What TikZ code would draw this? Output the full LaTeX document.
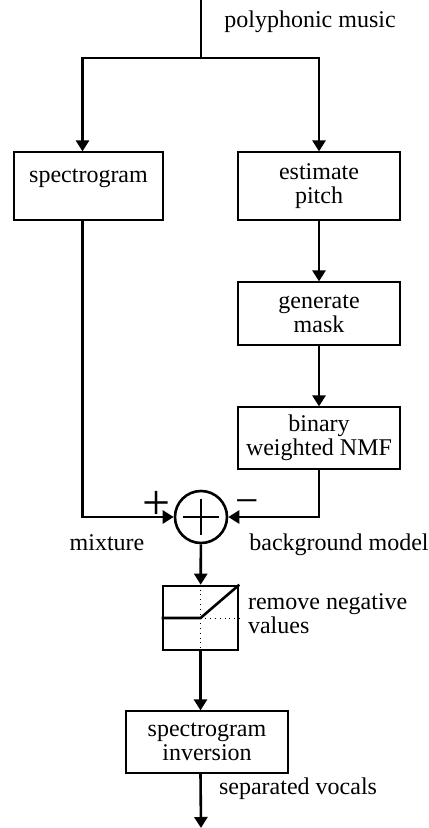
\documentclass[tikz,border=0pt]{standalone}
\usepackage{fontspec}
\setmainfont{Liberation Serif}
\usetikzlibrary{arrows.meta}

\begin{document}
\begin{tikzpicture}[x=0.5pt,y=-0.5pt,
    font=\fontsize{12pt}{12pt}\selectfont,
    sig/.style={line width=1.3pt},
    arr/.style={sig,-{Triangle[width=6.5pt,length=5.5pt]}},
    blk/.style={draw,line width=0.6pt,minimum width=81pt,align=center,inner sep=0pt}]
        \useasboundingbox (0,0) rectangle (428,828);                             %
        \coordinate (in)    at (201,0);                                          %
        \coordinate (split) at (201,58);                                         %
        \coordinate (out)   at (201,828);                                        %

        \node[blk, minimum width=74.5pt, minimum height=34pt,
              text height=8pt, text depth=11pt] (spec) at (88.5,186) {spectrogram};
        \node[blk, minimum height=34pt]   (pitch) at (319,186)   {estimate\\pitch};
        \node[blk, minimum height=31.5pt] (mask)  at (319,313.5) {generate\\mask};
        \node[blk, minimum height=31pt]   (nmf)   at (319,438)   {binary\\weighted NMF};
        \node[circle, draw, sig, minimum size=26pt, inner sep=0pt] (sum) at (201,517) {};
        \node[draw, sig, minimum width=37.5pt, minimum height=32pt, inner sep=0pt] (lim) at (200.5,618) {};
        \node[blk, minimum height=31pt]   (inv)   at (207,742)   {spectrogram\\inversion};

        \draw [sig] (in) -- (split);                                             %
        \draw [arr] (split) -| ([xshift=-3pt]spec.north);                        %
        \draw [arr] (split) -| (pitch.north);                                    %
        \draw [arr] (pitch) -- (mask);                                           %
        \draw [arr] (mask)  -- (nmf);                                            %
        \draw [arr] ([xshift=-3pt]spec.south) |- (sum.west);                     %mixture
        \draw [arr] (nmf.south) |- (sum.east);                                   %background
        \draw [sig] ([xshift=-9pt]sum.center) -- ([xshift=9pt]sum.center)
                    ([yshift=-9pt]sum.center) -- ([yshift=9pt]sum.center);       %
        \draw [arr] (sum) -- (lim);                                              %
        \draw [sig] (lim.west) -- (lim.center) -- (lim.north east);              %half wave
        \draw [dotted] (lim.north) -- (lim.south) (lim.center) -- (lim.east);    %
        \draw [arr] (lim.south) -- (lim.south |- inv.north);                     %
        \draw [arr] (inv.south -| lim.south) -- (out);                           %

        \node (inlbl)  at (310,22)  {polyphonic music};                          %
        \node (plus)   at (157,505) {\Huge +};                                   %
        \node (minus)  at (247,507) {\huge −};                                   %
        \node (mixlbl) at (107,543) {mixture};                                   %
        \node (bglbl)  at (339,545) {background model};                          %
        \node [anchor=west, align=left] (neglbl) at (241,614) {remove negative\\values};
        \node [anchor=west] (voclbl) at (212,789) {separated vocals};            %
      \end{tikzpicture}
\end{document}
